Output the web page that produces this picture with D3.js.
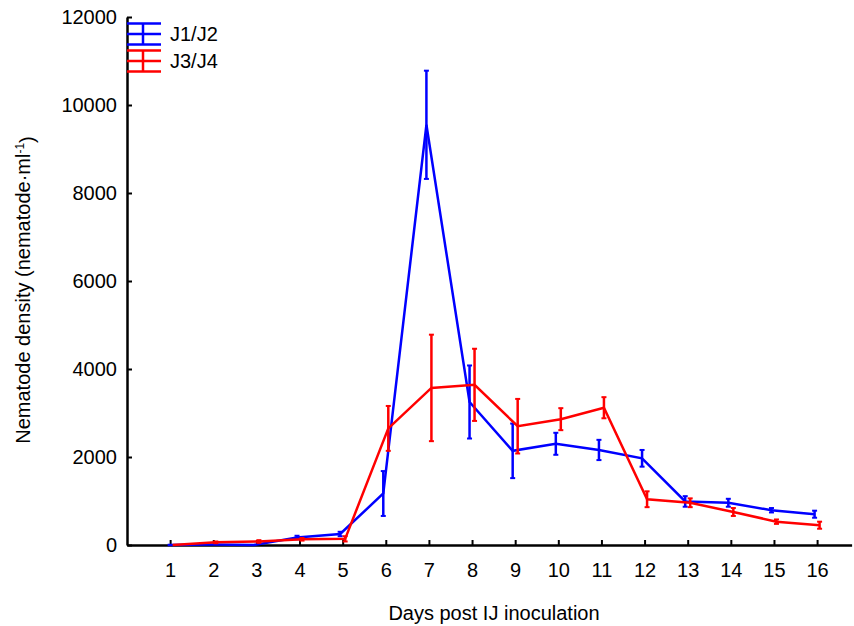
<!DOCTYPE html>
<meta charset="utf-8">
<html>
<head>
<title>Nematode density</title>
<script src="https://d3js.org/d3.v7.min.js"></script>
<style>
  body { margin: 0; background: #fff; }
  text { font-family: "Liberation Sans", Arial, sans-serif; fill: #000; }
</style>
</head>
<body>
<div id="chart"></div>
<script>
// data
var days = [1, 2, 3, 4, 5, 6, 7, 8, 9, 10, 11, 12, 13, 14, 15, 16];
var j12Mean = [0, 10, 0, 170, 250, 1170, 9550, 3250, 2140, 2300, 2160, 1970, 990, 960, 790, 700];
var j12Err  = [0, 0, 0, 40, 50, 510, 1230, 830, 620, 250, 230, 190, 120, 90, 50, 80];
var j34Mean = [0, 60, 80, 130, 140, 2650, 3570, 3640, 2700, 2860, 3120, 1040, 960, 750, 530, 450];
var j34Err  = [0, 20, 30, 30, 60, 510, 1210, 820, 620, 250, 240, 180, 100, 90, 50, 80];
var yTicks = [0, 2000, 4000, 6000, 8000, 10000, 12000];

var series = [
  { name: "J1/J2", color: "#0000ff", mean: j12Mean, err: j12Err, shift: -2.5 },
  { name: "J3/J4", color: "#ff0000", mean: j34Mean, err: j34Err, shift: 2.5 }
];

var width = 854, height = 626;

var svg = d3.select("#chart").append("svg")
  .attr("width", width)
  .attr("height", height);

var x = d3.scaleLinear().domain([0, 16.8]).range([127, 851.6]);
var y = d3.scaleLinear().domain([0, 12000]).range([545, 17]);

// axes
var xAxis = svg.append("g")
  .attr("transform", "translate(0," + y(0) + ")")
  .call(d3.axisBottom(x).tickValues(days).tickSizeInner(-5).tickSizeOuter(0).tickPadding(18));
var yAxis = svg.append("g")
  .attr("transform", "translate(" + x(0) + ",0)")
  .call(d3.axisLeft(y).tickValues(yTicks).tickFormat(d3.format("d")).tickSizeInner(-5).tickSizeOuter(0).tickPadding(10));

[xAxis, yAxis].forEach(function(a) {
  a.select(".domain").attr("stroke", "#000").attr("stroke-width", 2.5);
  a.selectAll(".tick line").attr("stroke", "#000").attr("stroke-width", 2);
  a.selectAll(".tick text").style("font-size", "20px").attr("fill", "#000");
});

// lines and error bars
series.forEach(function(s) {
  var pts = days.map(function(d, i) { return { d: d, m: s.mean[i], e: s.err[i] }; });
  var g = svg.append("g");
  var line = d3.line()
    .x(function(p) { return x(p.d) + s.shift; })
    .y(function(p) { return y(p.m); });

  g.append("path")
    .datum(pts)
    .attr("d", line)
    .attr("fill", "none")
    .attr("stroke", s.color)
    .attr("stroke-width", 2.5);

  var eb = g.selectAll(".eb").data(pts.filter(function(p) { return p.e > 0; }))
    .enter().append("g");
  eb.append("line")
    .attr("x1", function(p) { return x(p.d) + s.shift; })
    .attr("x2", function(p) { return x(p.d) + s.shift; })
    .attr("y1", function(p) { return y(p.m + p.e); })
    .attr("y2", function(p) { return y(p.m - p.e); })
    .attr("stroke", s.color).attr("stroke-width", 2.5);
  [1, -1].forEach(function(sign) {
    eb.append("line")
      .attr("x1", function(p) { return x(p.d) + s.shift - 2.5; })
      .attr("x2", function(p) { return x(p.d) + s.shift + 2.5; })
      .attr("y1", function(p) { return y(p.m + sign * p.e); })
      .attr("y2", function(p) { return y(p.m + sign * p.e); })
      .attr("stroke", s.color).attr("stroke-width", 2);
  });
});

// legend
var legend = svg.append("g");
series.forEach(function(s, i) {
  var cy = 34 + i * 27;
  var lg = legend.append("g").attr("transform", "translate(0," + cy + ")");
  [-10.5, 0, 10.5].forEach(function(off) {
    lg.append("line")
      .attr("x1", 127).attr("x2", 161)
      .attr("y1", off).attr("y2", off)
      .attr("stroke", s.color).attr("stroke-width", 2.5);
  });
  lg.append("line")
    .attr("x1", 143).attr("x2", 143)
    .attr("y1", -10.5).attr("y2", 10.5)
    .attr("stroke", s.color).attr("stroke-width", 2.5);
  lg.append("text")
    .attr("x", 170).attr("y", 0).attr("dy", "0.36em")
    .style("font-size", "20px")
    .text(s.name);
});

// axis titles
svg.append("text")
  .attr("x", 494).attr("y", 620)
  .attr("text-anchor", "middle")
  .style("font-size", "20px")
  .text("Days post IJ inoculation");

var yTitle = svg.append("text")
  .attr("transform", "translate(30,290) rotate(-90)")
  .attr("text-anchor", "middle")
  .style("font-size", "20px");
yTitle.append("tspan").text("Nematode density (nematode\u00b7ml");
yTitle.append("tspan").attr("dy", "-0.5em").style("font-size", "12px").text("-1");
yTitle.append("tspan").attr("dy", "0.5em").text(")");
</script>
</body>
</html>
